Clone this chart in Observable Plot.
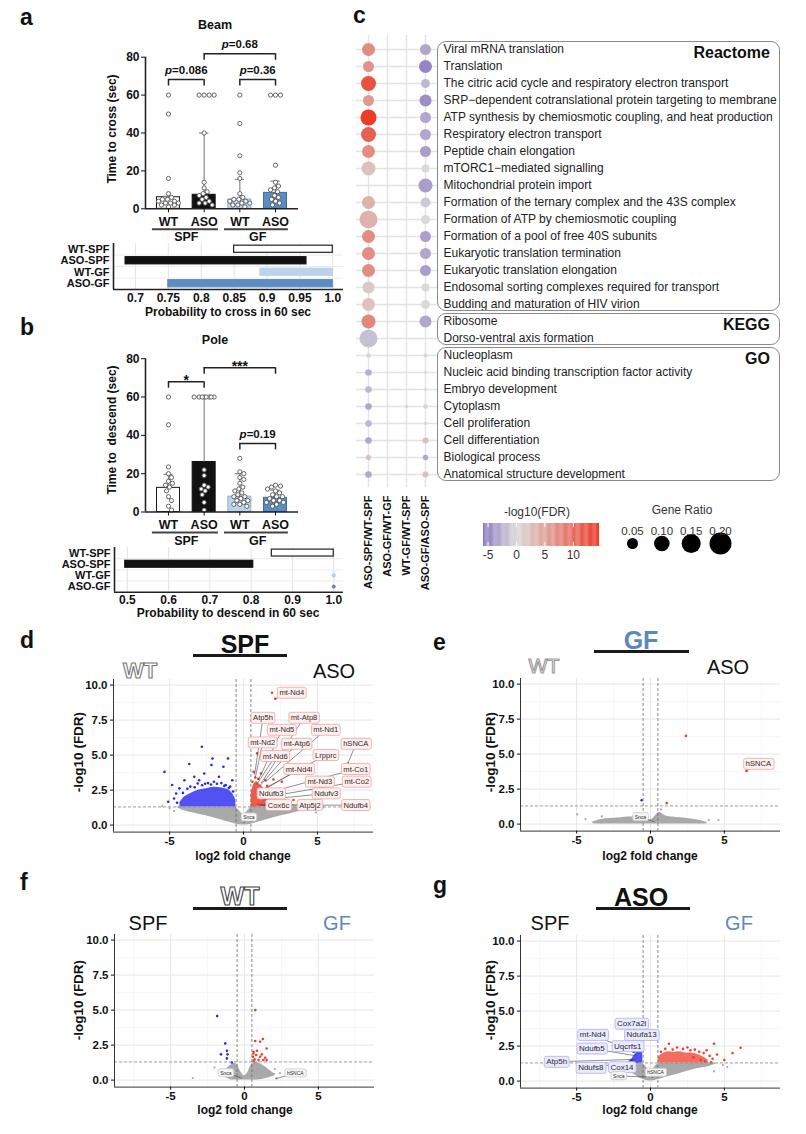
<!DOCTYPE html>
<html>
<head>
<meta charset="utf-8">
<script src="https://cdn.jsdelivr.net/npm/d3@7"></script>
<script src="https://cdn.jsdelivr.net/npm/@observablehq/plot@0.6"></script>
<style>
html,body{margin:0;padding:0;background:#fff;}
#fig{position:relative;width:806px;height:1134px;overflow:hidden;background:#fff;font-family:"Liberation Sans",Arial,Helvetica,sans-serif;color:#111;}
#fig svg{position:absolute;overflow:visible;max-width:none;}
.t{position:absolute;white-space:pre;line-height:1;}
.box{position:absolute;border:1.3px solid #8a8a8a;border-radius:9px;box-sizing:border-box;}
.bar{position:absolute;height:3px;background:#1a1a1a;}
</style>
</head>
<body>
<div id="fig"></div>
<script>
// ================= DATA =================
const groups = ["WT-SPF", "ASO-SPF", "WT-GF", "ASO-GF"];
const genotypes = ["WT", "ASO", "WT", "ASO"];
const housing = ["SPF", "GF"];

// a: Beam test (time to cross, sec)
const beamMean = [6.1, 7.4, 4.9, 8.4];
const beamErrTop = [6.6, 40, 15.5, 14.6];
const beamWtSpf = [60, 50, 16, 8, 6, 5, 5, 4, 4, 3, 3, 3, 2, 2, 1];
const beamAsoSpf = [60, 60, 60, 60, 40, 14, 11, 9, 8, 7, 6, 5, 4, 3, 3, 2];
const beamWtGf = [60, 45, 28, 19, 16, 8, 6, 5, 5, 4, 4, 3, 3, 2, 2, 1];
const beamAsoGf = [60, 60, 60, 23, 14, 12, 11, 10, 9, 7, 6, 5, 4, 3, 2];
const beamBrackets = [
  {a: 0, b: 1, h: 68.2, text: "p=0.086"},
  {a: 2, b: 3, h: 68.2, text: "p=0.36"},
  {a: 1, b: 3, h: 81.8, text: "p=0.68"}
];
const crossProbLo = [0.85, 0.685, 0.89, 0.75];
const crossProbHi = [1.0, 0.96, 1.0, 1.0];
const crossTicks = [0.7, 0.75, 0.8, 0.85, 0.9, 0.95, 1.0];

// b: Pole test (time to descend, sec)
const poleMean = [12.6, 26.1, 8.0, 7.4];
const poleErrTop = [19.6, 60, 20, 11.4];
const poleWtSpf = [60, 45.5, 23.5, 20, 18, 16, 15, 14, 13, 11, 8, 6, 3, 1];
const poleAsoSpf = [60, 60, 60, 60, 60, 60, 60, 60, 22, 19, 14, 13, 12, 11, 9, 5, 1];
const poleWtGf = [28, 21, 20, 18, 17, 15, 13, 12, 11, 10, 9, 8, 8, 7, 6, 6, 5, 4, 4, 3];
const poleAsoGf = [14, 13.5, 13, 12, 11, 10, 9, 8, 8, 7, 6, 6, 5, 5, 4, 3];
const poleBrackets = [
  {a: 0, b: 1, h: 68, text: "*"},
  {a: 1, b: 3, h: 75.3, text: "***"},
  {a: 2, b: 3, h: 35.8, text: "p=0.19"}
];
const descendProbLo = [0.85, 0.495, 1.0, 1.0];
const descendProbHi = [1.0, 0.805, 1.0, 1.0];
const descendTicks = [0.5, 0.6, 0.7, 0.8, 0.9, 1.0];

// c: enrichment dot plot
const comparisons = ["ASO-SPF/WT-SPF", "ASO-GF/WT-GF", "WT-GF/WT-SPF", "ASO-GF/ASO-SPF"];
const terms = [
  "Viral mRNA translation", "Translation",
  "The citric acid cycle and respiratory electron transport",
  "SRP\u2212dependent cotranslational protein targeting to membrane",
  "ATP synthesis by chemiosmotic coupling, and heat production",
  "Respiratory electron transport", "Peptide chain elongation",
  "mTORC1\u2212mediated signalling", "Mitochondrial protein import",
  "Formation of the ternary complex and the 43S complex",
  "Formation of ATP by chemiosmotic coupling",
  "Formation of a pool of free 40S subunits",
  "Eukaryotic translation termination", "Eukaryotic translation elongation",
  "Endosomal sorting complexes required for transport",
  "Budding and maturation of HIV virion",
  "Ribosome", "Dorso-ventral axis formation",
  "Nucleoplasm", "Nucleic acid binding transcription factor activity",
  "Embryo development", "Cytoplasm", "Cell proliferation",
  "Cell differentiation", "Biological process", "Anatomical structure development"
];
const termDatabases = [["Reactome", 0, 15], ["KEGG", 16, 17], ["GO", 18, 25]];
const fdrAsoSpfVsWtSpf = [7, 6.5, 12.4, 6, 14.5, 11, 7, 2.2, null, 3.7, 3.5, 7, 7, 7, 1.5, 2, 7.6, -1.5, -0.3, -2.5, -2, -3, -2, -3, 2, -3];
const ratioAsoSpfVsWtSpf = [0.07, 0.05, 0.093, 0.05, 0.106, 0.093, 0.07, 0.081, null, 0.07, 0.134, 0.07, 0.07, 0.07, 0.06, 0.07, 0.081, 0.134, 0.009, 0.018, 0.018, 0.018, 0.018, 0.018, 0.012, 0.018];
const fdrWtGfVsWtSpf = [null, null, null, null, null, null, null, null, null, null, null, null, null, null, null, null, null, null, null, null, null, 0.2, null, null, null, null];
const ratioWtGfVsWtSpf = [null, null, null, null, null, null, null, null, null, null, null, null, null, null, null, null, null, null, null, null, null, 0.005, null, null, null, null];
const fdrAsoGfVsAsoSpf = [-3, -5, -2, -4.5, -3, -3, -3.5, 0, -3.5, -1, 0, -3.5, -3, -3.5, 0, 0, -3, null, -0.2, 0, 0, 0.5, 0, 2.5, -3, 2.5];
const ratioAsoGfVsAsoSpf = [0.05, 0.07, 0.033, 0.06, 0.05, 0.05, 0.05, 0.026, 0.081, 0.041, 0.033, 0.05, 0.05, 0.05, 0.026, 0.033, 0.06, null, 0.0066, 0.005, 0.005, 0.009, 0.005, 0.015, 0.012, 0.015];
const fdrLegendTicks = [-5, 0, 5, 10];
const geneRatioTicks = [0.05, 0.10, 0.15, 0.20];

// d-g: volcano plots. cloud rows: [log2FC, lower, upper] ; points: [log2FC, -log10FDR]
// labels: [gene, labelX, labelY, pointX, pointY, kind]
const spfCloud = [[-4.5,1.25,1.3],[-4.2,1.1,1.3],[-3.8,0.95,1.3],[-3.3,0.85,1.3],[-2.8,0.72,1.3],[-2.3,0.6,1.3],[-1.8,0.45,1.3],[-1.3,0.3,1.3],[-0.9,0.18,1.3],[-0.55,0.08,1.3],[-0.3,0.03,1.05],[0,0,0.75],[0.3,0.03,1.05],[0.55,0.08,1.3],[0.9,0.18,1.3],[1.3,0.3,1.3],[1.8,0.45,1.3],[2.3,0.6,1.3],[2.8,0.72,1.3],[3.3,0.85,1.3],[3.8,0.97,1.3],[4.3,1.1,1.3],[4.8,1.25,1.3]];
const spfGrey = [[-5.5,1.35],[-5.0,1.2],[-4.7,1.0],[5.1,1.15],[5.4,1.25],[4.9,0.9]];
const spfDownDense = [[-4.3,1.6],[-4.0,2.0],[-3.5,2.3],[-3.0,2.5],[-2.5,2.6],[-2.0,2.7],[-1.5,2.65],[-1.0,2.5],[-0.75,2.25],[-0.52,1.8]];
const spfDown = [[-5.35,3.8],[-2.82,5.6],[-2.1,4.76],[-1.05,4.76],[-3.67,4.36],[-2.17,4.29],[-2.66,3.69],[-1.36,4.17],[-4.83,2.86],[-4.56,2.26],[-4.0,3.2],[-3.33,3.45],[-1.66,3.45],[-0.76,3.2],[-5.1,1.67],[-4.34,2.62],[-3.1,2.97],[-2.0,3.1],[-1.2,2.86],[-3.8,2.6],[-2.4,3.0],[-0.9,2.75],[-4.7,1.9],[-3.0,3.2],[-1.5,3.0],[-3.6,2.75],[-2.8,2.85],[-2.2,2.9],[-1.8,2.95],[-1.3,2.8],[-4.1,2.3],[-4.5,1.6],[-3.3,2.7],[-2.6,2.95],[-1.0,2.65],[-0.7,2.4]];
const spfUpDense = [[0.52,2.2],[0.7,2.9],[0.9,3.1],[1.1,2.9],[1.3,2.7],[1.5,2.4],[1.7,2.1],[1.9,1.7],[2.1,1.45]];
const spfUp = [[1.93,9.45],[2.15,9.02],[1.03,5.6],[0.92,5.12],[0.69,3.8],[1.19,3.69],[1.48,3.21],[2.03,3.26],[2.6,3.1],[4.27,2.86],[1.81,2.5],[2.37,2.26],[3.38,1.79],[2.03,1.55],[2.93,1.43],[7.07,4.4],[0.8,3.4],[1.0,3.3],[1.6,2.8],[2.3,1.9],[2.6,1.6],[0.6,3.1]];
const spfLabels = [
  ["mt-Nd4",3.27,9.45,2.15,9.02,"up"],["Atp5h",1.32,7.66,0.75,3.6,"up"],
  ["mt-Atp8",4.1,7.66,1.2,3.0,"up"],["mt-Nd5",2.6,6.8,1.0,3.2,"up"],
  ["mt-Nd1",5.57,6.8,1.5,3.1,"up"],["mt-Nd2",1.3,5.9,0.8,3.4,"up"],
  ["mt-Atp6",3.6,5.8,1.1,2.8,"up"],["hSNCA",7.6,5.8,7.07,4.4,"up"],
  ["mt-Nd6",2.15,4.93,0.9,2.9,"up"],["Lrpprc",5.57,5.0,1.4,2.6,"up"],
  ["mt-Nd4l",3.76,4.0,1.2,2.4,"up"],["mt-Co1",7.6,4.0,1.6,2.3,"up"],
  ["mt-Nd3",5.17,3.1,4.27,2.86,"up"],["mt-Co2",7.67,3.1,1.5,2.0,"up"],
  ["Ndufb3",1.88,2.26,0.9,2.0,"up"],["Ndufv3",5.6,2.26,1.3,1.8,"up"],
  ["Cox6c",2.37,1.43,0.9,1.5,"up"],["Atp5j2",4.5,1.43,1.4,1.5,"up"],
  ["Ndufb4",7.6,1.43,1.1,1.4,"up"],["Snca",0.36,0.55,0.0,0.15,"ns"]
];

const gfCloud = [[-3.9,0.03,0.15],[-3.5,0,0.3],[-3.0,0,0.38],[-2.5,0,0.42],[-2.0,0,0.45],[-1.5,0,0.5],[-1.0,0,0.55],[-0.6,0,0.7],[-0.3,0,0.45],[0,0,0.3],[0.3,0,0.55],[0.6,0,0.85],[1.0,0,0.6],[1.5,0,0.5],[2.0,0,0.45],[2.5,0,0.4],[3.0,0,0.33],[3.5,0,0.22],[3.85,0.03,0.1]];
const gfGrey = [[-4.96,0.69],[-4.4,0.36],[3.95,0.29],[4.6,0.29],[-3.3,0.55],[-0.9,0.8],[0.7,1.05]];
const gfDown = [[-0.6,1.7]];
const gfUp = [[2.4,6.3],[6.5,3.8],[1.1,1.5]];
const gfLabels = [["hSNCA",7.3,4.3,6.5,3.8,"up"],["Snca",-0.68,0.5,0.3,0.15,"ns"]];

const wtCloud = [[-1.4,0.3,0.5],[-1.2,0.15,0.8],[-1.0,0.05,1.0],[-0.8,0,1.15],[-0.6,0,1.2],[-0.4,0,0.9],[-0.2,0,0.5],[0,0,0.3],[0.2,0,0.5],[0.4,0,0.95],[0.6,0,1.25],[0.8,0,1.25],[1.0,0.03,1.2],[1.3,0.08,1.0],[1.6,0.15,0.8],[1.9,0.25,0.55],[2.1,0.35,0.45]];
const wtGrey = [[-2.03,0.9],[2.05,0.79],[2.16,0.12],[-3.5,0.15],[2.4,0.5],[-1.6,0.6]];
const wtDown = [[-1.85,4.57],[-1.3,2.62],[-1.19,2.1],[-1.59,1.84],[-1.15,1.84],[-1.19,1.55],[-0.86,1.26]];
const wtUp = [[0.73,5.0],[0.73,2.79],[1.06,2.74],[1.24,2.93],[1.5,2.26],[0.62,2.02],[0.57,1.67],[0.79,1.79],[1.06,1.67],[0.95,1.43],[0.62,1.36],[1.28,1.43],[1.5,1.43],[0.68,1.48],[1.17,1.84],[0.6,1.9],[0.85,2.1],[1.4,1.6]];
const wtLabels = [["Snca",-1.26,0.5,-0.2,0.15,"ns"],["hSNCA",3.44,0.48,2.1,0.1,"ns"]];

const asoCloud = [[-1.9,1.05,1.3],[-1.6,0.85,1.3],[-1.3,0.6,1.3],[-1.0,0.4,1.3],[-0.7,0.2,1.3],[-0.4,0.07,1.15],[-0.2,0.02,0.9],[0,0,0.7],[0.2,0.02,0.9],[0.4,0.07,1.15],[0.7,0.15,1.3],[1.0,0.25,1.3],[1.5,0.4,1.3],[2.0,0.55,1.3],[2.5,0.7,1.3],[3.0,0.85,1.3],[3.5,0.95,1.3],[4.0,1.05,1.3],[4.4,1.2,1.3]];
const asoGrey = [[4.3,0.7],[4.9,1.14],[-2.3,1.2],[5.2,1.0]];
const asoDownDense = [[-1.25,1.55],[-1.1,1.85],[-0.9,2.05],[-0.7,2.1],[-0.52,2.0]];
const asoDown = [[-0.85,2.85],[-0.6,2.75],[-0.7,2.4],[-1.0,2.3],[-1.3,1.5],[-1.15,2.1],[-0.55,2.2],[-1.4,1.4]];
const asoUpDense = [[0.52,1.7],[0.8,1.95],[1.2,2.1],[1.6,2.05],[2.0,2.1],[2.4,2.0],[2.8,2.0],[3.2,1.9],[3.6,1.7],[3.9,1.5]];
const asoUp = [[1.25,2.67],[4.3,2.67],[6.1,2.38],[5.55,2.0],[5.0,1.5],[3.6,2.0],[1.0,2.3],[1.5,2.25],[2.2,2.3],[2.7,2.2],[3.0,2.25],[3.3,2.1],[4.0,1.8],[4.2,1.6],[0.7,2.1],[1.8,2.4],[2.5,2.4],[3.8,2.2],[4.5,1.9],[3.4,1.5],[3.7,1.4],[4.1,1.35],[2.9,1.7]];
const asoLabels = [
  ["Cox7a2l",-1.27,4.1,-0.85,2.85,"down"],["Ndufa13",-0.6,3.3,-0.6,2.75,"down"],
  ["mt-Nd4",-3.9,3.3,-0.9,2.0,"down"],["Uqcrfs1",-1.54,2.5,-0.7,2.1,"down"],
  ["Ndufb5",-3.97,2.33,-0.95,1.8,"down"],["Atp5h",-6.35,1.38,-1.1,1.55,"down"],
  ["Ndufs8",-4.04,0.95,-1.0,1.45,"down"],["Cox14",-1.93,1.0,-0.75,1.4,"down"],
  ["Snca",-2.15,0.36,-0.3,0.3,"ns"],["hSNCA",0.34,0.6,0.1,0.2,"ns"]
];

// ================= STYLE / HELPERS =================
const F = '"Liberation Sans", Arial, Helvetica, sans-serif';
const fig = document.getElementById("fig");
const BASE = {fontFamily: F, fontSize: "12px", color: "#111", background: "transparent", overflow: "visible"};
const barFill = ["#ffffff", "#111111", "#bcd3ea", "#5b8cc2"];
const barStroke = ["#1a1a1a", "#111111", "#8fb0d0", "#3d6c9e"];
const STEEL = "#5a88bf";
const BLUE = "#2626f4", RED = "#ef3d2c", GREY = "#a9a9a9";
const fdrColor = {type: "linear", domain: [-5.8, 0, 14.6], range: ["#8b78c2", "#d9d9d9", "#ec3a25"]};
const ratioR = {type: "sqrt", domain: [0, 0.2], range: [0, 11]};

function put(svg, left, top) {
  svg.style.position = "absolute";
  svg.style.left = left + "px";
  svg.style.top = top + "px";
  fig.appendChild(svg);
  return svg;
}
function txt(s, x, y, css = {}, rot = 0, anchor = "center") {
  const d = document.createElement("div");
  d.className = "t";
  d.textContent = s;
  const tx = anchor === "left" ? "0" : anchor === "right" ? "-100%" : "-50%";
  d.style.left = x + "px";
  d.style.top = y + "px";
  d.style.transform = `translate(${tx},-50%)` + (rot ? ` rotate(${rot}deg)` : "");
  Object.assign(d.style, css);
  fig.appendChild(d);
  return d;
}
function outlined(s, x, y, size, bold, col) {
  const d = txt(s, x, y, {fontSize: size + "px", fontWeight: bold ? "bold" : "normal", color: "#ffffff"});
  d.style.setProperty("-webkit-text-stroke", "1.1px " + col);
}
function hbar(x1, x2, y) {
  const d = document.createElement("div");
  d.className = "bar";
  d.style.left = x1 + "px"; d.style.width = (x2 - x1) + "px"; d.style.top = (y - 1.5) + "px";
  fig.appendChild(d);
}
function italicP(svg) {
  d3.select(svg).selectAll("text").each(function () {
    const s = this.textContent;
    if (/^p=/.test(s) && this.childElementCount === 0) {
      const t = d3.select(this);
      t.text(null);
      t.append("tspan").attr("font-style", "italic").text("p");
      t.append("tspan").text(s.slice(1));
    }
  });
}
// deterministic beeswarm offsets (pixels)
function swarmOffsets(vals, ppu, diam, maxOff) {
  const placed = [];
  const cands = [0];
  for (let k = 1; k <= maxOff; k++) cands.push(k, -k);
  return vals.map(v => {
    const y = v * ppu;
    let best = 0, bestD = -1;
    for (const c of cands) {
      let m = Infinity;
      for (const p of placed) m = Math.min(m, Math.hypot(p.x - c, p.y - y));
      if (m >= diam) { best = c; bestD = m; break; }
      if (m > bestD) { bestD = m; best = c; }
    }
    placed.push({x: best, y});
    return best;
  });
}

// ================= PANEL a / b : bar charts =================
function barChart(o) {
  const left = 100, fl = 145, fw = 153;
  const xd = [-0.644, 3.644];
  const xpu = fw / (xd[1] - xd[0]);
  const fh = o.y0 - o.y80, ppu = fh / 80;
  const mt = o.y80 - o.top, mb = 42;
  const bars = groups.map((g, i) => ({i, mean: o.mean[i], err: o.err[i]}));
  const dots = [];
  o.points.forEach((arr, i) => {
    const off = swarmOffsets(arr, ppu, 4.4, 10);
    arr.forEach((v, k) => dots.push({i, v, x: i + off[k] / xpu}));
  });
  const brTicks = o.brackets.flatMap(b => [{x: b.a, h: b.h}, {x: b.b, h: b.h}]);
  const houseLab = housing.map((h, k) => ({h, x: 0.5 + 2 * k}));
  const svg = Plot.plot({
    width: fl - left + fw + 12, height: mt + fh + mb,
    marginLeft: fl - left, marginRight: 12, marginTop: mt, marginBottom: mb,
    style: {...BASE, fontWeight: "bold"},
    x: {domain: xd},
    y: {domain: [0, 80]},
    marks: [
      Plot.rectY(bars, {x1: d => d.i - 0.322, x2: d => d.i + 0.322, y1: 0, y2: "mean", fill: d => barFill[d.i], stroke: d => barStroke[d.i], strokeWidth: 1}),
      Plot.ruleX(bars, {x: "i", y1: "mean", y2: "err", stroke: "#8a8a8a", strokeWidth: 1.2}),
      Plot.ruleY(bars, {y: "err", x1: d => d.i - 0.13, x2: d => d.i + 0.13, stroke: "#8a8a8a", strokeWidth: 1.2}),
      Plot.dot(dots, {x: "x", y: "v", r: 2.1, fill: "white", stroke: "#555", strokeWidth: 0.9}),
      Plot.ruleX([xd[0]], {y1: 0, y2: 80, stroke: "#222", strokeWidth: 1.6}),
      Plot.ruleY([0], {x1: xd[0], x2: xd[1], stroke: "#222", strokeWidth: 1.6}),
      Plot.axisY({ticks: [0, 20, 40, 60, 80], tickSize: 4, tickPadding: 2, label: null, fontSize: 12}),
      Plot.axisX({ticks: [0, 1, 2, 3], tickFormat: i => genotypes[i], tickSize: 4, tickPadding: 4, label: null, fontSize: 12.5}),
      Plot.ruleY([0], {x1: -0.45, x2: 1.4, dy: 20.5, stroke: "#444", strokeWidth: 2}),
      Plot.ruleY([0], {x1: 1.57, x2: 3.36, dy: 20.5, stroke: "#444", strokeWidth: 2}),
      Plot.text(houseLab, {x: "x", y: 0, text: "h", dy: 28.5, fontSize: 12.5}),
      Plot.ruleY(o.brackets, {y: "h", x1: "a", x2: "b", stroke: "#222", strokeWidth: 1.5}),
      Plot.ruleX(brTicks, {x: "x", y1: "h", y2: d => d.h - 3.4, stroke: "#222", strokeWidth: 1.5}),
      Plot.text(o.brackets.filter(b => b.text[0] !== "*"), {x: d => (d.a + d.b) / 2, y: "h", text: "text", dy: -9, fontSize: 11.5}),
      Plot.text(o.brackets.filter(b => b.text[0] === "*"), {x: d => (d.a + d.b) / 2, y: "h", text: "text", dy: -1, fontSize: 14})
    ]
  });
  put(svg, left, o.top);
  italicP(svg);
}

function probChart(o) {
  const rows = groups.map((g, i) => ({i, lo: o.lo[i], hi: o.hi[i]}));
  const svg = Plot.plot({
    width: o.fr + 20, height: o.fb - o.top + 30,
    marginLeft: o.fl, marginRight: 20, marginTop: o.ft - o.top, marginBottom: 30,
    style: {...BASE, fontWeight: "bold"},
    x: {domain: o.domain},
    y: {domain: [3.5, -0.5]},
    marks: [
      Plot.ruleX(o.ticks, {stroke: "#e3e3e3", strokeWidth: 1}),
      Plot.ruleY([0.5, 1.5, 2.5], {stroke: "#ececec", strokeWidth: 1}),
      Plot.rect(rows.filter(d => d.hi > d.lo), {x1: "lo", x2: "hi", y1: d => d.i - 0.31, y2: d => d.i + 0.31, fill: d => barFill[d.i], stroke: d => d.i === 0 ? "#222222" : barFill[d.i], strokeWidth: 1.2}),
      Plot.dot(rows.filter(d => d.hi <= d.lo), {x: "hi", y: "i", r: 1.6, fill: d => barFill[d.i], stroke: d => barStroke[d.i], strokeWidth: 0.6}),
      Plot.ruleX([o.domain[0]], {stroke: "#222", strokeWidth: 1.6}),
      Plot.ruleY([3.5], {stroke: "#222", strokeWidth: 1.6}),
      Plot.axisX({ticks: o.ticks, tickFormat: d => d === 1 ? "1.0" : String(Math.round(d * 100) / 100), tickSize: 0, tickPadding: o.tp, label: null, fontSize: 12}),
      Plot.axisY({ticks: [0, 1, 2, 3], tickFormat: i => groups[i], tickSize: 0, tickPadding: 4, label: null, fontSize: 11})
    ]
  });
  put(svg, 0, o.top);
}

barChart({top: 20, y80: 56.7, y0: 208.3, mean: beamMean, err: beamErrTop,
  points: [beamWtSpf, beamAsoSpf, beamWtGf, beamAsoGf], brackets: beamBrackets});
probChart({top: 230, ft: 243, fb: 289, fl: 113, fr: 343, domain: [0.6666, 1.0163],
  ticks: crossTicks, lo: crossProbLo, hi: crossProbHi, tp: 4});
barChart({top: 320, y80: 358.2, y0: 511.5, mean: poleMean, err: poleErrTop,
  points: [poleWtSpf, poleAsoSpf, poleWtGf, poleAsoGf], brackets: poleBrackets});
probChart({top: 535, ft: 547, fb: 591.7, fl: 114, fr: 343, domain: [0.469, 1.0235],
  ticks: descendTicks, lo: descendProbLo, hi: descendProbHi, tp: 3});

const LET = {fontWeight: "bold", fontSize: "23px", color: "#111"};
txt("a", 20, 17, LET, 0, "left");
txt("b", 20, 327, LET, 0, "left");
txt("Beam", 215, 25, {fontWeight: "bold", fontSize: "12.5px"});
txt("Pole", 215, 340, {fontWeight: "bold", fontSize: "12.5px"});
txt("Time to cross (sec)", 112, 129, {fontWeight: "bold", fontSize: "12px"}, -90);
txt("Time to  descend (sec)", 112, 430, {fontWeight: "bold", fontSize: "12px"}, -90);
txt("Probability to cross in 60 sec", 228, 312, {fontWeight: "bold", fontSize: "12px"});
txt("Probability to descend in 60 sec", 228, 613, {fontWeight: "bold", fontSize: "12px"});

// ================= PANEL c =================
const enrich = [];
const cols = [[fdrAsoSpfVsWtSpf, ratioAsoSpfVsWtSpf, 0], [fdrWtGfVsWtSpf, ratioWtGfVsWtSpf, 2], [fdrAsoGfVsAsoSpf, ratioAsoGfVsAsoSpf, 3]];
terms.forEach((t, k) => {
  for (const [f, r, c] of cols) if (f[k] != null) enrich.push({term: t, comp: comparisons[c], fdr: f[k], ratio: r[k]});
});
const chartC = Plot.plot({
  width: 450, height: 577, marginLeft: 16, marginRight: 353, marginTop: 15, marginBottom: 110,
  style: {...BASE, fontSize: "12px"},
  x: {type: "point", domain: comparisons, padding: 0.63},
  y: {type: "point", domain: terms, padding: 0.52},
  color: fdrColor,
  r: ratioR,
  marks: [
    Plot.ruleY(terms, {y: d => d, stroke: "#e3e3e3", strokeWidth: 1.4}),
    Plot.ruleX(comparisons, {x: d => d, stroke: "#e3e3e3", strokeWidth: 1.4}),
    Plot.dot(enrich, {x: "comp", y: "term", r: "ratio", fill: "fdr"}),
    Plot.axisY({anchor: "right", tickSize: 0, tickPadding: 6, label: null, fontSize: 12, fill: "#222"}),
    Plot.axisX({anchor: "bottom", tickSize: 0, tickPadding: 8, tickRotate: -90, label: null, fontSize: 11, fontWeight: "bold"})
  ]
});
put(chartC, 340, 20);
d3.select(chartC).selectAll('g[aria-label="x-axis tick label"] text').attr("font-weight", "bold");
{
  const ys = chartC.scale("y");
  for (const [name, first, last] of termDatabases) {
    const top = ys.apply(terms[first]) + 20 - 8.5;
    const bottom = ys.apply(terms[last]) + 20 + 7;
    const b = document.createElement("div");
    b.className = "box";
    b.style.left = "437px"; b.style.width = "343px";
    b.style.top = top + "px"; b.style.height = (bottom - top) + "px";
    fig.appendChild(b);
    txt(name, 770, top + 12, {fontWeight: "bold", fontSize: "16px"}, 0, "right");
  }
}
txt("c", 353, 15, LET, 0, "left");

// colour bar
const colorbarSteps = d3.range(-5.8, 14.6, 0.2);
const cbar = Plot.plot({
  width: 149, height: 63, marginLeft: 13, marginRight: 20, marginTop: 23, marginBottom: 17,
  style: {...BASE, fontSize: "12px"},
  x: {domain: [-5.8, 14.6]},
  y: {domain: [0, 1], axis: null},
  color: fdrColor,
  marks: [
    Plot.rect(colorbarSteps, {x1: d => d, x2: d => Math.min(d + 0.22, 14.6), y1: 0, y2: 1, fill: d => d}),
    Plot.ruleX(fdrLegendTicks, {y1: 0, y2: 0.18, stroke: "white", strokeWidth: 1}),
    Plot.ruleX(fdrLegendTicks, {y1: 0.82, y2: 1, stroke: "white", strokeWidth: 1}),
    Plot.axisX({ticks: fdrLegendTicks, tickFormat: d => String(d), tickSize: 0, tickPadding: 4, label: null, fontSize: 12, fill: "#333"})
  ]
});
put(cbar, 470, 500);
txt("-log10(FDR)", 537, 512, {fontSize: "12px", color: "#333"});

// size legend
const sleg = Plot.plot({
  width: 140, height: 63, marginLeft: 17, marginRight: 35, marginTop: 33, marginBottom: 10,
  style: {...BASE, fontSize: "12px"},
  x: {domain: [0.05, 0.2], axis: null},
  r: ratioR,
  marks: [
    Plot.dot(geneRatioTicks, {x: d => d, r: d => d, fill: "black"}),
    Plot.text(geneRatioTicks, {x: d => d, text: d => d.toFixed(2), frameAnchor: "top", dy: -7, fontSize: 11.5, fill: "#333"})
  ]
});
put(sleg, 615, 500);
txt("Gene Ratio", 682, 510, {fontSize: "12px", color: "#333"});

// ================= PANELS d-g : volcano plots =================
const labelStyles = {
  up: {fill: "#fff0f0", stroke: "#f2a3a3", size: 7.6},
  down: {fill: "#eaeaff", stroke: "#aeb0ee", size: 8},
  ns: {fill: "#f6f6f6", stroke: "#c8c8c8", size: 5}
};
function boxLabels(svg, labs) {
  const kinds = new Map(labs.map(d => [d.gene, d.kind]));
  svg.querySelectorAll("text").forEach(t => {
    const k = kinds.get(t.textContent);
    if (!k) return;
    const st = labelStyles[k];
    const b = t.getBBox();
    const r = document.createElementNS("http://www.w3.org/2000/svg", "rect");
    r.setAttribute("x", b.x - 2); r.setAttribute("y", b.y - 1);
    r.setAttribute("width", b.width + 4); r.setAttribute("height", b.height + 2);
    r.setAttribute("rx", 2); r.setAttribute("fill", st.fill);
    r.setAttribute("stroke", st.stroke); r.setAttribute("stroke-width", 0.8);
    if (t.getAttribute("transform")) r.setAttribute("transform", t.getAttribute("transform"));
    t.parentNode.insertBefore(r, t);
  });
}
function volcano(o) {
  const ml = 55, mr = 8, mt = 10, mb = 32, fw = 260, fh = 152.6;
  const cloud = o.cloud.map(([x, lo, hi]) => ({x, lo, hi}));
  const labs = o.labels.map(([gene, lx, ly, px, py, kind]) => ({gene, lx, ly, px, py, kind}));
  const textMarks = ["up", "down", "ns"].map(k => Plot.text(labs.filter(d => d.kind === k), {
    x: "lx", y: "ly", text: "gene", fontSize: labelStyles[k].size, fontWeight: "normal", fill: "#2a2a2a"}));
  const svg = Plot.plot({
    width: ml + fw + mr, height: mt + fh + mb,
    marginLeft: ml, marginRight: mr, marginTop: mt, marginBottom: mb,
    style: {...BASE, fontWeight: "bold"},
    x: {domain: [-8.8, 8.8]},
    y: {domain: [-0.5, 10.4]},
    marks: [
      Plot.ruleX([-7.5, -2.5, 2.5, 7.5], {stroke: "#f2f2f2", strokeWidth: 0.7}),
      Plot.ruleY([1.25, 3.75, 6.25, 8.75], {stroke: "#f2f2f2", strokeWidth: 0.7}),
      Plot.ruleX([-5, 0, 5], {stroke: "#e5e5e5", strokeWidth: 1}),
      Plot.ruleY([0, 2.5, 5, 7.5, 10], {stroke: "#e5e5e5", strokeWidth: 1}),
      Plot.areaY(cloud, {x: "x", y1: "lo", y2: "hi", fill: GREY, curve: "catmull-rom"}),
      Plot.dot(o.grey, {x: d => d[0], y: d => d[1], r: 1.1, fill: GREY}),
      Plot.areaY(o.downDense || [], {x: d => d[0], y1: 1.3, y2: d => d[1], fill: BLUE, fillOpacity: 0.8, curve: "catmull-rom"}),
      Plot.areaY(o.upDense || [], {x: d => d[0], y1: 1.3, y2: d => d[1], fill: RED, fillOpacity: o.upOpacity || 0.85, curve: "catmull-rom"}),
      Plot.dot(o.down, {x: d => d[0], y: d => d[1], r: 1.3, fill: BLUE}),
      Plot.dot(o.up, {x: d => d[0], y: d => d[1], r: 1.3, fill: RED}),
      Plot.ruleX([-0.5, 0.5], {stroke: "#6a6a6a", strokeWidth: 0.8, strokeDasharray: "3,2"}),
      Plot.ruleY([1.3], {stroke: "#8a8a8a", strokeWidth: 0.8, strokeDasharray: "3,2"}),
      Plot.link(labs, {x1: "lx", y1: "ly", x2: "px", y2: "py", stroke: "#444", strokeWidth: 0.6}),
      ...textMarks,
      Plot.ruleX([-8.8], {stroke: "#333", strokeWidth: 1}),
      Plot.ruleY([-0.5], {stroke: "#333", strokeWidth: 1}),
      Plot.axisY({ticks: [0, 2.5, 5, 7.5, 10], tickFormat: d3.format(".1f"), tickSize: 3, tickPadding: 3, label: null, fontSize: 11.5}),
      Plot.axisX({ticks: [-5, 0, 5], tickFormat: d => String(d), tickSize: 3, tickPadding: 2, label: null, fontSize: 11.5})
    ]
  });
  put(svg, o.fl - ml, o.ft - mt);
  boxLabels(svg, labs);
}

volcano({fl: 113, ft: 679.4, cloud: spfCloud, grey: spfGrey, downDense: spfDownDense, upDense: spfUpDense,
  down: spfDown, up: spfUp, labels: spfLabels});
volcano({fl: 520, ft: 678.4, cloud: gfCloud, grey: gfGrey, down: gfDown, up: gfUp, labels: gfLabels});
volcano({fl: 114, ft: 934.4, cloud: wtCloud, grey: wtGrey, down: wtDown, up: wtUp, labels: wtLabels});
volcano({fl: 520, ft: 935, cloud: asoCloud, grey: asoGrey, downDense: asoDownDense, upDense: asoUpDense,
  down: asoDown, up: asoUp, labels: asoLabels, upOpacity: 0.75});

const YT = {fontWeight: "bold", fontSize: "13.5px"};
const XT = {fontWeight: "bold", fontSize: "12px"};
// d
txt("d", 20, 640, LET, 0, "left");
txt("SPF", 245, 644, {fontWeight: "bold", fontSize: "25px"});
hbar(193, 287, 655);
outlined("WT", 140, 671, 22, true, "#777");
txt("ASO", 334, 671, {fontSize: "20px"});
txt("-log10 (FDR)", 79, 752, YT, -90);
txt("log2 fold change", 243, 856, XT);
// e
txt("e", 433, 642, LET, 0, "left");
txt("GF", 641, 640, {fontWeight: "bold", fontSize: "25px", color: STEEL});
hbar(594, 689, 651);
outlined("WT", 544, 666, 20, false, "#999");
txt("ASO", 728, 667, {fontSize: "20px"});
txt("-log10 (FDR)", 491, 752, YT, -90);
txt("log2 fold change", 650, 856, XT);
// f
txt("f", 20, 882, LET, 0, "left");
outlined("WT", 240, 896, 25, true, "#444");
hbar(193, 287, 908);
txt("SPF", 148, 923, {fontSize: "20px"});
txt("GF", 337, 923, {fontSize: "20px", color: STEEL});
txt("-log10 (FDR)", 79, 1000, YT, -90);
txt("log2 fold change", 245, 1110, XT);
// g
txt("g", 433, 885, LET, 0, "left");
txt("ASO", 641, 897, {fontWeight: "bold", fontSize: "25px"});
hbar(596, 690, 908);
txt("SPF", 550, 923, {fontSize: "20px"});
txt("GF", 739, 923, {fontSize: "20px", color: STEEL});
txt("-log10 (FDR)", 491, 1000, YT, -90);
txt("log2 fold change", 650, 1110, XT);
</script>
</body>
</html>
